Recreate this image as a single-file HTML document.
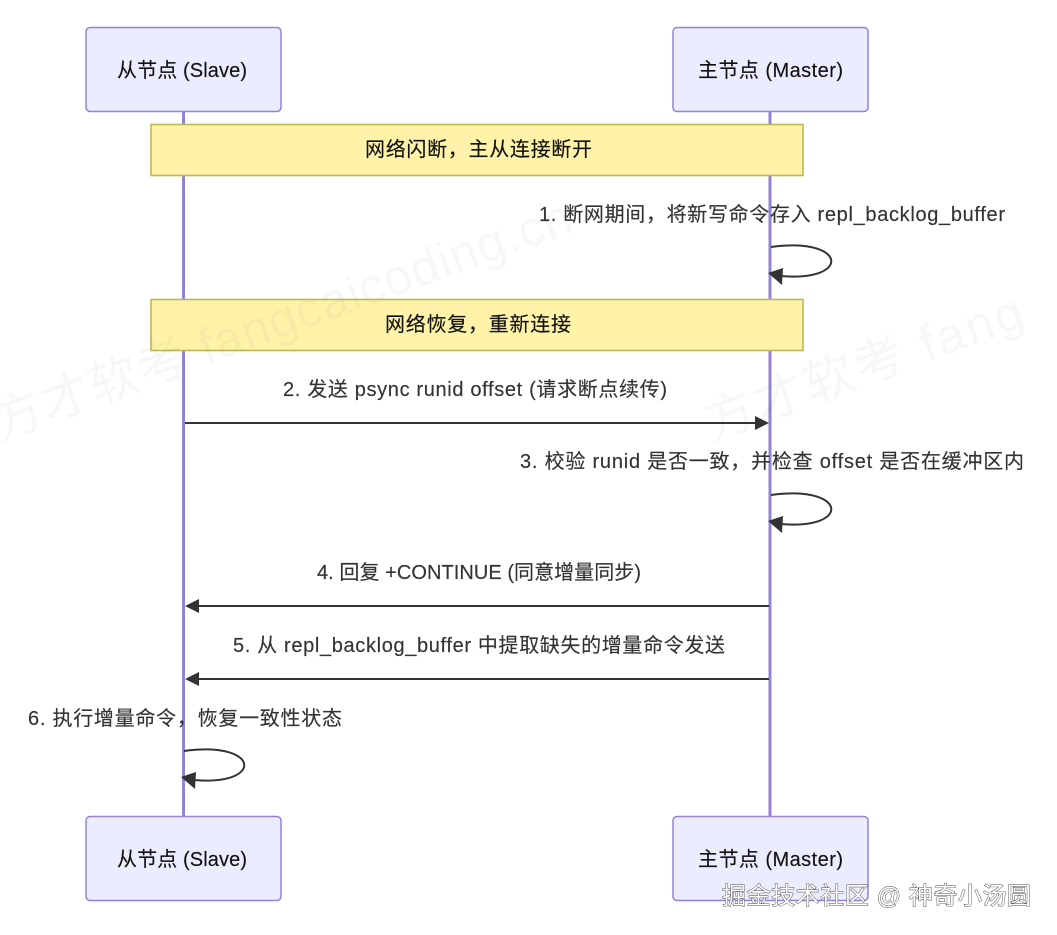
<!DOCTYPE html>
<html lang="zh">
<head>
<meta charset="utf-8">
<title>Diagram</title>
<style>
html,body{margin:0;padding:0;background:#fff;width:1057px;height:935px;overflow:hidden}
svg{display:block;filter:blur(.35px)}
text{font-family:"Liberation Sans","Noto Sans CJK SC",sans-serif}
.actor{fill:#ececff;stroke:#9382d8;stroke-width:1.5}
.note{fill:#fff3a9;stroke:#bdb855;stroke-width:1.6}
.life{stroke:#9382d8;stroke-width:3}
.t{font-size:20px;fill:#111;stroke:#111;stroke-width:.15}
.m{font-size:20px;fill:#333;stroke:#333;stroke-width:.15}
.line{stroke:#333;stroke-width:2;fill:none}
.head{fill:#333}
.wm{font-size:50px;fill:#000;fill-opacity:.03}
.jj{font-size:24px;fill:#fff;stroke:#444;stroke-width:.9;paint-order:stroke}
</style>
</head>
<body>
<svg width="1057" height="935" viewBox="0 0 1057 935" xmlns="http://www.w3.org/2000/svg">
<rect width="1057" height="935" fill="#fff"/>

<line class="life" x1="183.5" y1="111" x2="183.5" y2="817"/>
<line class="life" x1="770" y1="111" x2="770" y2="817"/>

<rect class="actor" x="86" y="27.5" width="195" height="84" rx="4"/>
<text class="t" x="117" y="77" textLength="130" lengthAdjust="spacing">从节点 (Slave)</text>
<rect class="actor" x="673" y="27.5" width="195" height="84" rx="4"/>
<text class="t" x="698" y="77" textLength="145" lengthAdjust="spacing">主节点 (Master)</text>

<rect class="note" x="151" y="124.5" width="652" height="51"/>
<text class="t" x="365" y="156" textLength="227" lengthAdjust="spacing">网络闪断，主从连接断开</text>

<text class="m" x="539" y="221" textLength="466" lengthAdjust="spacing">1. 断网期间，将新写命令存入 repl_backlog_buffer</text>
<path class="line" d="M771 247C851 236 851 286 773 275"/>
<polygon class="head" points="768,273 783,268 782,285"/>

<rect class="note" x="151" y="299.5" width="652" height="51"/>
<text class="t" x="385" y="331" textLength="186" lengthAdjust="spacing">网络恢复，重新连接</text>

<text class="m" x="283" y="396" textLength="384" lengthAdjust="spacing">2. 发送 psync runid offset (请求断点续传)</text>
<line class="line" x1="185" y1="423" x2="756" y2="423"/>
<polygon class="head" points="769,423 755,416 755,430"/>

<text class="m" x="520" y="468" textLength="504" lengthAdjust="spacing">3. 校验 runid 是否一致，并检查 offset 是否在缓冲区内</text>
<path class="line" d="M771 495C851 484 851 534 773 523"/>
<polygon class="head" points="768,521 783,516 782,533"/>

<text class="m" x="317" y="579" textLength="324" lengthAdjust="spacing">4. 回复 +CONTINUE (同意增量同步)</text>
<line class="line" x1="769" y1="606" x2="198" y2="606"/>
<polygon class="head" points="185,606 199,599 199,613"/>

<text class="m" x="233" y="652" textLength="492" lengthAdjust="spacing">5. 从 repl_backlog_buffer 中提取缺失的增量命令发送</text>
<line class="line" x1="769" y1="679" x2="198" y2="679"/>
<polygon class="head" points="185,679 199,672 199,686"/>

<text class="m" x="28" y="725" textLength="314" lengthAdjust="spacing">6. 执行增量命令，恢复一致性状态</text>
<path class="line" d="M184 751C264 740 264 790 186 779"/>
<polygon class="head" points="181,777 196,772 195,789"/>

<rect class="actor" x="86" y="816.5" width="195" height="84" rx="4"/>
<text class="t" x="117" y="866" textLength="130" lengthAdjust="spacing">从节点 (Slave)</text>
<rect class="actor" x="673" y="816.5" width="195" height="84" rx="4"/>
<text class="t" x="698" y="866" textLength="145" lengthAdjust="spacing">主节点 (Master)</text>

<text class="wm" transform="translate(0 440) rotate(-20)" textLength="612" lengthAdjust="spacing">方才软考 fangcaicoding.cn</text>
<text class="wm" transform="translate(712 440) rotate(-20)" textLength="335" lengthAdjust="spacing">方才软考 fang</text>

<text class="jj" x="722" y="904" textLength="309" lengthAdjust="spacing">掘金技术社区 @ 神奇小汤圆</text>
</svg>
</body>
</html>
